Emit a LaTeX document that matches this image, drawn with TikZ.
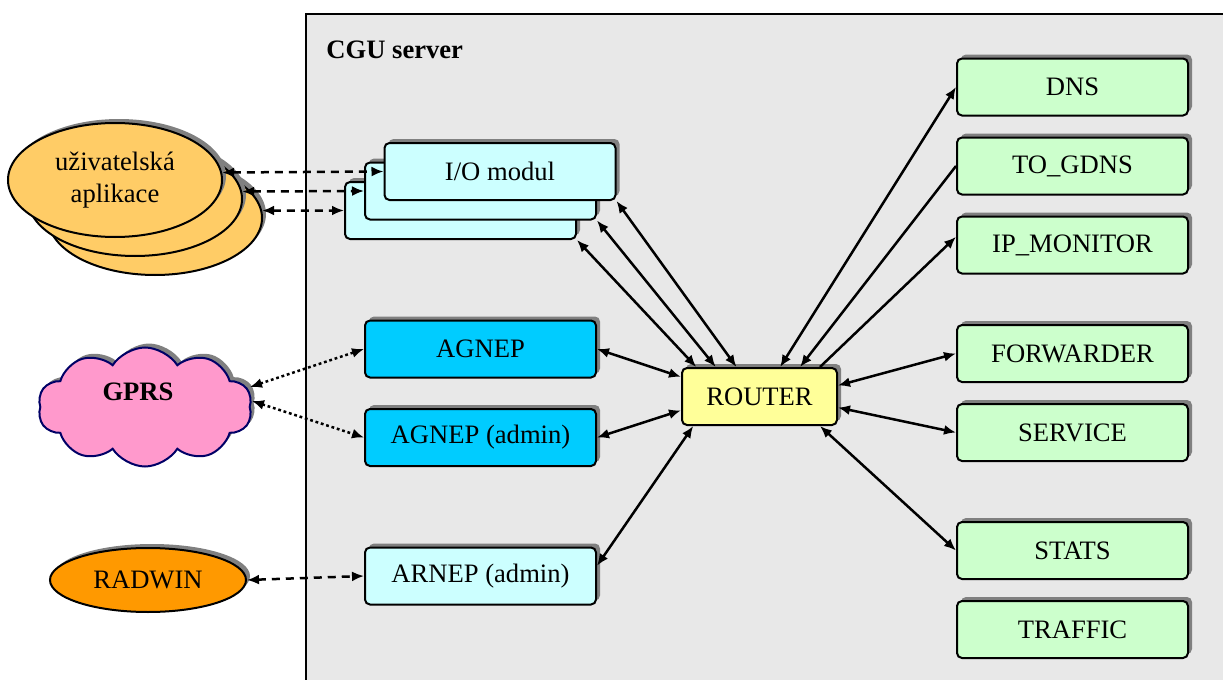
\documentclass[tikz,border=0pt]{standalone}
\usepackage{fontspec}
\setmainfont{Liberation Serif}
\usetikzlibrary{shapes.geometric,shapes.symbols,shadows,arrows.meta}

\definecolor{framefill}{HTML}{E8E8E8}
\definecolor{svcgreen}{HTML}{CCFFCC}
\definecolor{iocyan}{HTML}{CCFFFF}
\definecolor{agblue}{HTML}{00CCFF}
\definecolor{routeryellow}{HTML}{FFFF99}
\definecolor{appyellow}{HTML}{FFCC66}
\definecolor{radorange}{HTML}{FF9900}
\definecolor{cloudpink}{HTML}{FF99CC}
\definecolor{cloudline}{HTML}{000066}
\definecolor{shadowgray}{HTML}{808080}

\begin{document}
\begin{tikzpicture}[x=0.5pt,y=-0.5pt,
  every node/.style={font=\fontsize{13.3}{16}\selectfont},
  boxshadow/.style={drop shadow={shadow xshift=2pt,shadow yshift=2pt,fill=shadowgray,opacity=1}},
  module/.style={draw,line width=1pt,rounded corners=2.5pt,minimum width=115.5pt,
    minimum height=28.5pt,inner sep=0pt,boxshadow},
  svcbox/.style={module,fill=svcgreen},
  iobox/.style={module,fill=iocyan},
  nepbox/.style={module,fill=agblue},
  routerbox/.style={module,fill=routeryellow,minimum width=77.5pt},
  appell/.style={ellipse,draw,line width=1pt,fill=appyellow,minimum width=107pt,
    minimum height=57pt,inner sep=0pt,boxshadow},
  >={Latex[length=6pt,width=5pt]},
  link/.style={line width=1.25pt,<->},
  dashlink/.style={link,dash pattern=on 4pt off 3pt},
  dotlink/.style={link,dash pattern=on 1.4pt off 1.4pt}
]
\useasboundingbox (0,0) rectangle (1223,680);
\clip (0,0) rectangle (1223,680);

% CGU server frame
\fill[framefill] (306,14) rectangle (1240,700);
\draw[line width=1pt] (306,700) -- (306,14) -- (1240,14);
\node[anchor=west,inner sep=0pt,font=\fontsize{13.3}{16}\selectfont\bfseries] (cgu) at (326,50) {CGU server};

% user applications (stacked)
\node[appell] (app3) at (155,218) {};
\node[appell] (app2) at (135,199) {};
\node[appell,align=center] (app1) at (115,180) {uživatelská\\aplikace};

% GPRS cloud
\node[cloud,cloud puffs=10,cloud puff arc=115,draw=cloudline,line width=1pt,fill=cloudpink,
  minimum width=107pt,minimum height=59.5pt,boxshadow] (gprs) at (145,407) {};
\node[font=\fontsize{13.3}{16}\selectfont\bfseries] (gprslbl) at (138,392) {GPRS};
\coordinate (gp1) at (250,387);
\coordinate (gp2) at (252,401);

% RADWIN
\node[ellipse,draw,line width=1pt,fill=radorange,minimum width=98pt,minimum height=32pt,
  inner sep=0pt,boxshadow] (radwin) at (148,580) {RADWIN};

% I/O modules (stacked)
\node[iobox] (io3) at (460.5,210.5) {};
\node[iobox] (io2) at (480.5,191) {};
\node[iobox] (io1) at (500,171.5) {I/O modul};

% network endpoints
\node[nepbox] (agnep) at (480.5,349) {AGNEP};
\node[nepbox] (agnepa) at (480.5,437.5) {AGNEP (admin)};
\node[iobox] (arnep) at (480.5,576) {ARNEP (admin)};

% router
\node[routerbox] (router) at (759.5,396.5) {ROUTER};

% services
\node[svcbox] (dns) at (1072.5,87) {DNS};
\node[svcbox] (togdns) at (1072.5,166) {TO\_GDNS};
\node[svcbox] (ipmon) at (1072.5,245) {IP\_MONITOR};
\node[svcbox] (fwd) at (1072.5,353.5) {FORWARDER};
\node[svcbox] (service) at (1072.5,432.5) {SERVICE};
\node[svcbox] (stats) at (1072.5,550.5) {STATS};
\node[svcbox] (traffic) at (1072.5,629.5) {TRAFFIC};

% outside connections
\draw[dashlink] (app1.4) -- (io1.west);
\draw[dashlink] (app2.4) -- (io2.west);
\draw[dashlink] (app3.4) -- (io3.west);
\draw[dotlink] (gp1) -- (agnep.west);
\draw[dotlink] (gp2) -- (agnepa.west);
\draw[dashlink] (radwin.east) -- (arnep.west);

% router connections
\draw[link] (io1.south east) -- (router.128.3);
\draw[link] (io2.south east) -- (router.146.2);
\draw[link] (io3.south east) -- (router.155.5);
\draw[link] (agnep.east) -- (router.166.6);
\draw[link] (agnepa.east) -- (router.-170.1);
\draw[link] (arnep.5) -- (router.-156.2);
\draw[link] (router.55.6) -- (dns.west);
\draw[line width=1.25pt,<-] (router.36.5) -- (togdns.west);
\draw[line width=1.25pt,->] (router.26.4) -- (ipmon.176.5);
\draw[link] (router.8.4) -- (fwd.west);
\draw[link] (router.-8.4) -- (service.west);
\draw[link] (router.-26) -- (stats.west);
\end{tikzpicture}
\end{document}
